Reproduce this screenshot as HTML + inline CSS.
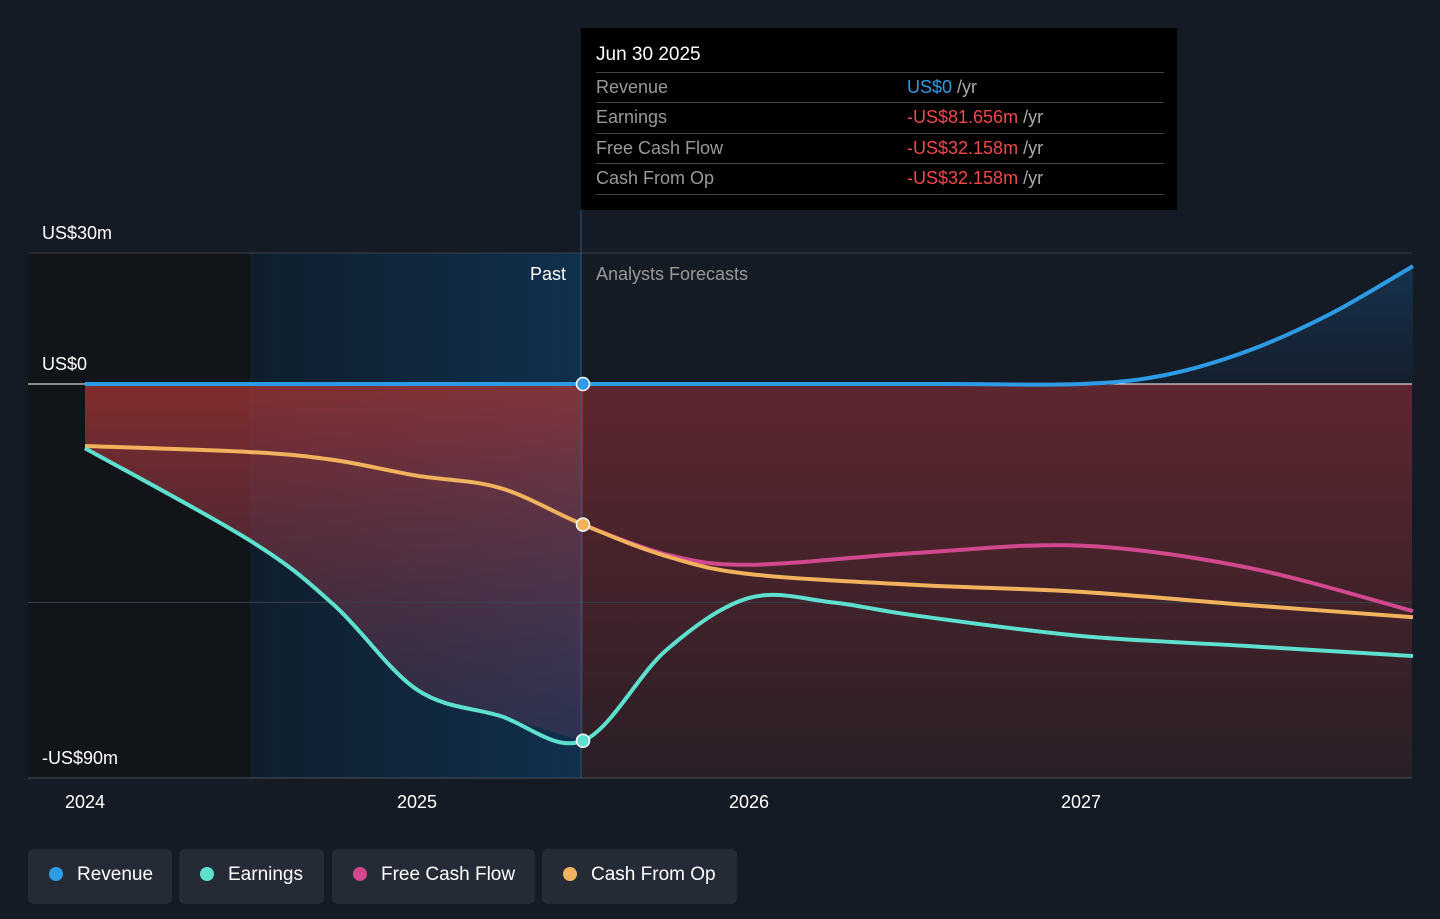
<!DOCTYPE html>
<html><head><meta charset="utf-8">
<style>
body{margin:0;background:#151b24;font-family:"Liberation Sans",sans-serif;}
#wrap{position:relative;width:1440px;height:919px;overflow:hidden;background:#151b24;}
.tt{position:absolute;left:581px;top:28px;width:596px;height:182px;background:#000;color:#fff;}
.tt .h{position:absolute;left:15px;top:16px;font-size:19px;}
.row{position:absolute;left:15px;width:568px;height:30px;border-top:1px solid #444;font-size:18px;color:#999;}
.row span{position:absolute;top:4px;}
.row .v{left:311px;}
.legend{position:absolute;top:849px;height:55px;background:#252b36;border-radius:6px;color:#fff;font-size:19px;line-height:51px;}
.legend i{position:absolute;left:21px;top:18px;width:14px;height:14px;border-radius:50%;}
.legend span{position:absolute;left:49px;}
</style></head><body>
<div id="wrap">
<svg id="svg" width="1440" height="919" style="position:absolute;left:0;top:0"></svg>
<div class="tt">
<div class="h">Jun 30 2025</div>
<div class="row" style="top:44px"><span>Revenue</span><span class="v" style="color:#2e9be6">US$0 <span style="color:#aaa;position:static">/yr</span></span></div>
<div class="row" style="top:74px"><span>Earnings</span><span class="v" style="color:#f04848">-US$81.656m <span style="color:#aaa;position:static">/yr</span></span></div>
<div class="row" style="top:105px"><span>Free Cash Flow</span><span class="v" style="color:#f04848">-US$32.158m <span style="color:#aaa;position:static">/yr</span></span></div>
<div class="row" style="top:135px;border-bottom:1px solid #444"><span>Cash From Op</span><span class="v" style="color:#f04848">-US$32.158m <span style="color:#aaa;position:static">/yr</span></span></div>
</div>
<div class="legend" style="left:28px;width:144px"><i style="background:#2e9be6"></i><span>Revenue</span></div>
<div class="legend" style="left:179px;width:145px"><i style="background:#5ee0cf"></i><span>Earnings</span></div>
<div class="legend" style="left:332px;width:203px"><i style="background:#d1488f"></i><span>Free Cash Flow</span></div>
<div class="legend" style="left:542px;width:195px"><i style="background:#f0b25c"></i><span>Cash From Op</span></div>
</div>
<script>
const revX=[2024,2025.5,2026,2026.6,2027,2027.25,2027.5,2027.75,2028];
const revY=[0,0,0,0,0,2,7.5,16,27];
const earnX=[2024,2024.5,2024.75,2025,2025.25,2025.5,2025.75,2026,2026.25,2026.5,2027,2027.5,2028];
const earnY=[-14.7,-36,-50.6,-70,-76,-81.7,-61,-49,-50,-53,-57.7,-60,-62.3];
const cfoX=[2024,2024.5,2024.75,2025,2025.25,2025.5,2025.75,2026,2026.5,2027,2027.5,2028];
const cfoY=[-14.2,-15.6,-17.4,-21,-23.8,-32.2,-39.4,-43.5,-46,-47.6,-50.6,-53.4];
const fcfX=[2025.5,2025.75,2026,2026.5,2027,2027.5,2028];
const fcfY=[-32.2,-39,-41.4,-38.7,-37,-42,-52];
const yTicks=[30,0,-90];
const yLabels=["US$30m","US$0","-US$90m"];
const xTicks=[2024,2025,2026,2027];
const X=v=>85+(v-2024)*332;
const Y=v=>384-v*4.367;
const NS="http://www.w3.org/2000/svg";
const svg=document.getElementById('svg');
function el(t,a,n){const e=document.createElementNS(NS,t);for(const k in a)e.setAttribute(k,a[k]);svg.appendChild(e);return e;}
function path(xs,ys){const p=xs.map((x,i)=>[X(x),Y(ys[i])]);let d=`M${p[0][0]},${p[0][1]}`;
for(let i=0;i<p.length-1;i++){const p0=p[i-1]||p[i],p1=p[i],p2=p[i+1],p3=p[i+2]||p2;
d+=` C${p1[0]+(p2[0]-p0[0])/6},${p1[1]+(p2[1]-p0[1])/6} ${p2[0]-(p3[0]-p1[0])/6},${p2[1]-(p3[1]-p1[1])/6} ${p2[0]},${p2[1]}`;}return d;}
const defs=el('defs',{},'defs');
defs.innerHTML='<linearGradient id="pb" x1="0" x2="1" y1="0" y2="0"><stop offset="0" stop-color="#0f1e2c"/><stop offset="1" stop-color="#10304d"/></linearGradient><linearGradient id="pr" x1="0" x2="0" y1="0" y2="1"><stop offset="0" stop-color="#a83535" stop-opacity="0.75"/><stop offset="1" stop-color="#6a3a5a" stop-opacity="0.3"/></linearGradient><linearGradient id="fr" x1="0" x2="0" y1="0" y2="1"><stop offset="0" stop-color="#5e262e"/><stop offset="1" stop-color="#2a1f27"/></linearGradient><linearGradient id="rb" x1="0" x2="0" y1="0" y2="1"><stop offset="0" stop-color="#16314d"/><stop offset="1" stop-color="#151f2c"/></linearGradient>';
el('rect',{x:28,y:253,width:222,height:525,fill:'#111419'},'past-dark-region');
el('rect',{x:250,y:253,width:331,height:525,fill:'url(#pb)'},'past-region');
el('rect',{x:581,y:384,width:831,height:394,fill:'url(#fr)'},'forecast-fill');
el('path',{d:path(revX.slice(2),revY.slice(2))+` L${X(2028)},${Y(0)} L${X(2026)},${Y(0)} Z`,fill:'url(#rb)'},'revenue-area');
const pe=earnX.map((x,i)=>[x,earnY[i]]).filter(a=>a[0]<=2025.5);
el('path',{d:path(pe.map(a=>a[0]),pe.map(a=>a[1]))+` L${X(2025.5)},${Y(0)} L${X(2024)},${Y(0)} Z`,fill:'url(#pr)'},'past-earnings-area');
el('line',{x1:28,x2:1412,y1:253,y2:253,stroke:'#3a414c'},'grid-30');
el('line',{x1:28,x2:1412,y1:Y(-50),y2:Y(-50),stroke:'#3a414c'},'grid-minus50');
el('line',{x1:28,x2:1412,y1:778,y2:778,stroke:'#4a515c'},'x-axis');
el('line',{x1:28,x2:1412,y1:384,y2:384,stroke:'#fff'},'zero-line');
el('line',{x1:581,x2:581,y1:210,y2:778,stroke:'#2b5a82'},'today-line');
yTicks.forEach((v,i)=>{const t=el('text',{x:42,y:(i==2?764:Y(v)-14),fill:'#fff','font-size':18},'y-tick-label');t.textContent=yLabels[i];});
xTicks.forEach(v=>{const t=el('text',{x:X(v),y:808,fill:'#fff','font-size':18,'text-anchor':'middle'},'x-tick-label');t.textContent=v;});
let t=el('text',{x:566,y:280,fill:'#fff','font-size':18,'text-anchor':'end'},'past-label');t.textContent='Past';
t=el('text',{x:596,y:280,fill:'#999','font-size':18},'forecast-label');t.textContent='Analysts Forecasts';
el('path',{d:path(fcfX,fcfY),fill:'none',stroke:'#d1488f','stroke-width':4},'fcf-line');
el('path',{d:path(cfoX,cfoY),fill:'none',stroke:'#f0b25c','stroke-width':4},'cfo-line');
el('path',{d:path(earnX,earnY),fill:'none',stroke:'#5ee0cf','stroke-width':4},'earnings-line');
el('path',{d:path(revX,revY),fill:'none',stroke:'#2e9be6','stroke-width':4},'revenue-line');
[[revY[1],'#2e9be6'],[cfoY[5],'#f0b25c'],[earnY[5],'#5ee0cf']].forEach(a=>el('circle',{cx:X(2025.5),cy:Y(a[0]),r:6.5,fill:a[1],stroke:'#fff','stroke-width':1.5},'marker'));
</script>
</body></html>
